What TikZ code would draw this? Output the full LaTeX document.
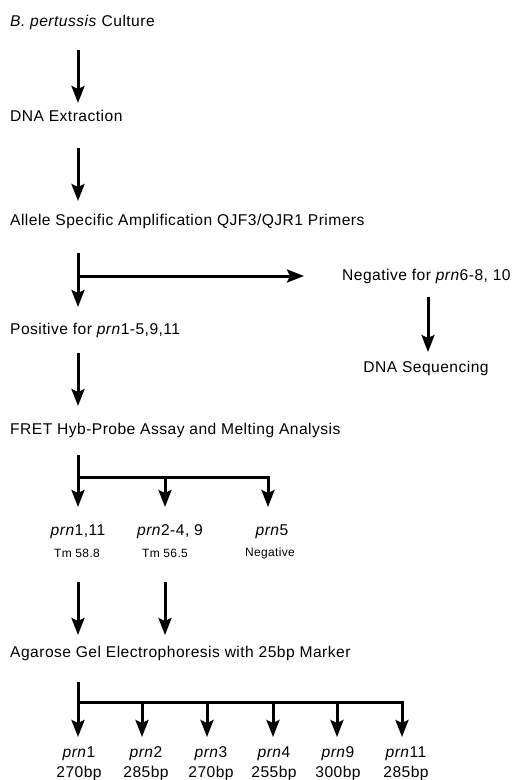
\documentclass[tikz,border=0pt]{standalone}
\usepackage{fontspec}
\setmainfont{Liberation Sans}[LetterSpace=3]
\usetikzlibrary{arrows.meta}
\begin{document}
\begin{tikzpicture}[x=1pt,y=-1pt,
  txt/.style={inner sep=0pt,font=\fontsize{15.6}{18}\selectfont},
  sml/.style={inner sep=0pt,font=\fontsize{12}{14}\selectfont},
  arr/.style={line width=3pt,-{Stealth[length=17pt,width=13pt,inset=3pt]}},
  ln/.style={line width=3pt}]
\useasboundingbox (0,0) rectangle (516,780);
% texts
\node[txt,anchor=west] (cult) at (10,22) {\textit{B. pertussis} Culture};
\node[txt,anchor=west] (dna) at (10,116) {DNA Extraction};
\node[txt,anchor=west] (ase) at (10,221) {Allele Specific Amplification QJF3/QJR1 Primers};
\node[txt,anchor=west] (neg) at (342,276) {Negative for \textit{prn}6-8, 10};
\node[txt] (seq) at (426,368) {DNA Sequencing};
\node[txt,anchor=west] (pos) at (10,330) {Positive for \textit{prn}1-5,9,11};
\node[txt,anchor=west] (fret) at (10,430) {FRET Hyb-Probe Assay and Melting Analysis};
\node[txt] (t1) at (78,532) {\textit{prn}1,11};
\node[sml] (t1b) at (77,553) {Tm 58.8};
\node[txt] (t2) at (170,532) {\textit{prn}2-4, 9};
\node[sml] (t2b) at (165,553) {Tm 56.5};
\node[txt] (t3) at (272,532) {\textit{prn}5};
\node[sml] (t3b) at (270,553) {Negative};
\node[txt,anchor=west] (gel) at (10,653) {Agarose Gel Electrophoresis with 25bp Marker};
\foreach \n/\x/\p/\b in {1/79/1/270,2/146/2/285,3/211/3/270,4/274/4/255,5/338/9/300,6/406/11/285}{
  \node[txt] (b\n) at (\x,754) {\textit{prn}\p};
  \node[txt] (c\n) at (\x,773) {\b bp};
}
% arrows
\coordinate (a1s) at (78,50); \coordinate (a1e) at (78,103);
\draw[arr] (a1s) -- (a1e);
\coordinate (a2s) at (78,148); \coordinate (a2e) at (78,201);
\draw[arr] (a2s) -- (a2e);
\coordinate (a3s) at (78,253); \coordinate (a3e) at (78,307);
\coordinate (a3h) at (78,276); \coordinate (a3r) at (304,276);
\draw[arr] (a3s) -- (a3e);
\draw[arr] (a3h) -- (a3r);
\coordinate (a4s) at (428,297); \coordinate (a4e) at (428,352);
\draw[arr] (a4s) -- (a4e);
\coordinate (a5s) at (78,353); \coordinate (a5e) at (78,406);
\draw[arr] (a5s) -- (a5e);
% FRET branch
\coordinate (f0) at (78,455); \coordinate (f1) at (78,507);
\coordinate (fh1) at (78,477);
\coordinate (fh2) at (165,477); \coordinate (fh3) at (268,477);
\coordinate (f2) at (165,507); \coordinate (f3) at (268,507);
\draw[arr] (f0) -- (f1);
\draw[ln,line cap=rect] (fh1) -- (fh3);
\draw[arr] (fh2) -- (f2);
\draw[arr] (fh3) -- (f3);
% to gel
\coordinate (g1s) at (78,582); \coordinate (g1e) at (78,635);
\coordinate (g2s) at (165,582); \coordinate (g2e) at (165,635);
\draw[arr] (g1s) -- (g1e);
\draw[arr] (g2s) -- (g2e);
% gel branch
\coordinate (h0) at (78,682); \coordinate (h1) at (78,737);
\draw[arr] (h0) -- (h1);
\coordinate (hl) at (78,702); \coordinate (hh) at (402,702);
\draw[ln,line cap=rect] (hl) -- (hh);
\foreach \x in {142,207,273,337,402}{
  \draw[arr] (\x,702) -- (\x,737);
}
\end{tikzpicture}
\end{document}
